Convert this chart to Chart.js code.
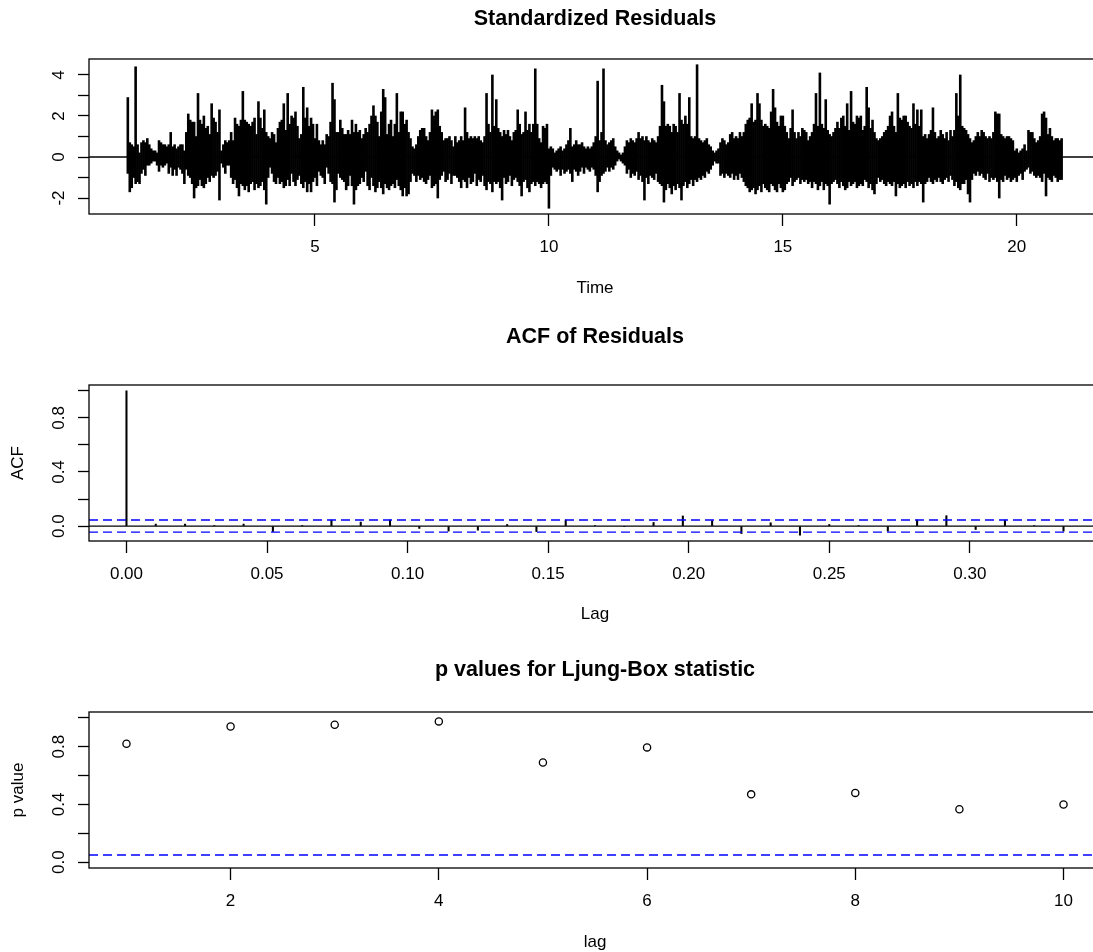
<!DOCTYPE html>
<html><head><meta charset="utf-8">
<script src="https://cdn.jsdelivr.net/npm/chart.js@4.4.1/dist/chart.umd.min.js"></script>
<style>
html,body{margin:0;padding:0;background:#fff;overflow:hidden;width:1093px;height:952px;position:relative;}
canvas{position:absolute;left:0;}
</style></head><body>
<canvas id="c1" width="1190" height="317" style="top:0px"></canvas>
<canvas id="c2" width="1190" height="317" style="top:317px"></canvas>
<canvas id="c3" width="1190" height="336" style="top:634px"></canvas>
<script>
// ---------- Panel 1: standardized residuals (envelope per 1/24 time unit) ----------
const resStart = 1;
const resFreq = 24;
const resHi = [
2.9,0.7,0.6,0.5,4.4,0.6,0.2,0.7,0.8,0.7,0.9,0.6,0.4,0.3,0.3,0.2,0.8,0.7,0.6,0.6,0.5,0.6,1.2,0.5,
0.6,0.4,0.5,0.6,0.6,0.3,1.2,2.1,1.8,1.7,1.7,1.0,3.1,1.8,1.6,2.0,1.4,1.5,1.1,2.6,1.9,1.7,1.2,2.3,
0.3,0.6,0.8,0.7,0.8,1.2,0.8,1.9,1.6,1.5,1.8,3.2,1.8,1.7,1.6,1.5,1.7,1.9,1.1,2.7,1.9,1.4,2.3,1.2,
1.0,0.9,1.2,1.1,0.7,1.4,1.7,1.8,2.6,1.3,3.1,1.6,2.0,1.9,2.2,1.5,0.9,1.1,3.4,1.9,2.4,1.5,1.9,1.6,
0.9,1.6,0.8,0.6,0.8,0.6,1.1,1.0,1.7,3.6,2.8,1.2,1.2,1.8,1.4,1.1,1.1,1.3,1.1,1.8,1.2,1.6,1.2,1.3,
0.9,1.1,1.4,1.2,1.6,2.0,2.5,2.0,1.7,1.0,2.2,3.3,2.9,1.1,1.6,1.8,1.0,1.6,3.1,1.2,2.2,2.2,1.6,1.8,
1.2,0.9,0.5,0.4,0.6,1.0,1.3,1.4,1.4,1.0,0.8,1.2,2.3,2.0,2.2,2.3,1.5,1.2,0.8,0.9,0.9,1.0,0.8,0.5,
1.0,0.7,0.8,1.0,0.8,2.4,1.2,0.9,1.0,0.9,1.0,0.9,1.0,0.8,0.7,1.0,3.1,1.6,1.2,4.0,1.5,2.8,1.4,1.2,
1.0,1.3,1.1,1.3,1.0,0.8,1.2,1.3,2.3,1.6,1.1,1.2,2.2,1.3,1.6,1.2,1.6,4.3,1.6,0.9,0.7,1.5,1.4,1.6,
0.4,0.5,0.4,0.2,0.3,0.4,0.5,0.3,0.4,0.6,0.8,1.4,0.5,0.6,0.8,0.6,0.6,0.7,0.5,0.4,0.5,0.4,0.5,0.7,
1.0,3.7,0.8,1.2,4.3,0.8,0.6,0.7,0.8,0.9,0.5,0.3,0.2,0.1,0.2,0.5,0.8,0.7,0.9,0.8,0.7,0.9,1.2,0.9,
1.0,0.8,1.0,0.8,0.7,0.9,0.8,0.7,1.0,1.5,3.5,2.7,1.5,1.6,1.5,1.2,1.6,1.5,1.2,3.1,1.8,1.6,2.0,1.6,
2.9,1.0,0.9,1.0,4.5,0.9,0.8,0.7,0.8,0.9,0.6,0.5,0.3,0.2,0.3,0.4,0.7,0.9,0.8,0.6,0.7,1.1,1.2,0.9,
1.0,0.9,1.2,1.0,1.2,1.6,1.8,1.9,2.6,1.7,1.8,3.1,2.6,1.8,1.5,1.6,1.5,1.4,2.2,3.3,2.4,1.7,1.5,2.0,
2.0,1.5,1.2,0.9,1.4,2.3,1.2,0.9,1.2,1.0,1.4,1.3,1.2,0.8,1.0,1.2,1.6,3.1,1.5,4.1,1.6,1.4,2.8,1.3,
1.1,1.0,1.2,1.4,1.7,1.4,1.9,2.0,1.5,2.6,1.3,3.2,1.7,1.6,2.0,1.9,2.0,1.3,1.5,3.4,2.4,1.4,1.8,1.2,
0.9,0.8,0.9,1.0,1.2,1.3,1.5,2.0,2.2,1.5,1.2,3.1,1.9,1.8,2.0,2.0,1.7,1.5,1.4,2.6,1.6,2.3,1.5,2.3,
1.0,1.1,0.9,1.1,1.3,2.4,1.2,0.9,1.0,1.3,1.1,0.9,1.2,0.8,1.3,1.0,1.3,3.1,2.0,4.0,1.5,1.4,1.3,1.1,
0.9,0.7,0.8,1.0,1.2,1.0,1.3,1.2,1.0,0.9,1.0,0.9,1.2,2.2,2.1,2.1,1.1,1.0,0.9,1.0,1.0,0.9,0.8,0.3,
0.4,0.2,0.3,0.4,0.6,0.3,1.3,1.2,1.2,0.9,0.7,0.8,1.0,2.1,2.2,1.9,1.1,1.4,1.0,0.8,0.9,0.9,0.8,0.9
];
const resLo = [
-0.8,-1.7,-1.5,-1.0,-1.3,-1.2,-1.3,-0.8,-0.6,-0.9,-0.4,-0.4,-0.3,-0.2,-0.2,-0.4,-0.7,-0.4,-0.5,-0.4,-0.3,-0.8,-0.5,-0.9,
-0.6,-0.9,-0.5,-0.6,-0.8,-1.3,-0.6,-0.9,-1.0,-1.3,-2.0,-1.5,-1.4,-1.1,-1.4,-1.5,-1.3,-1.0,-1.2,-0.9,-1.0,-0.9,-0.7,-2.1,
-0.3,-0.5,-0.8,-0.4,-0.4,-1.0,-1.3,-1.1,-1.5,-1.9,-1.3,-1.4,-1.6,-1.4,-1.7,-1.3,-1.2,-1.6,-1.3,-1.5,-1.4,-1.2,-1.6,-2.3,
-1.0,-0.5,-0.8,-1.2,-1.3,-1.0,-1.3,-1.2,-1.5,-1.4,-1.1,-1.4,-0.8,-1.2,-1.4,-1.1,-0.9,-1.3,-1.5,-1.2,-1.7,-1.3,-1.7,-1.2,
-1.0,-1.4,-0.7,-0.9,-1.0,-1.3,-0.5,-0.8,-1.2,-1.3,-2.2,-1.6,-0.8,-1.0,-1.1,-1.2,-1.6,-1.4,-0.9,-1.4,-2.3,-1.6,-1.4,-1.3,
-1.0,-1.2,-0.7,-1.4,-1.6,-1.0,-1.4,-1.7,-1.5,-1.2,-1.5,-1.8,-1.3,-1.5,-1.6,-1.4,-1.3,-1.5,-1.1,-1.4,-1.6,-1.9,-1.5,-1.9,
-1.8,-1.2,-0.8,-0.9,-1.2,-0.9,-1.1,-1.0,-1.2,-1.3,-1.1,-0.9,-1.5,-1.4,-1.3,-2.0,-1.1,-0.9,-0.7,-1.2,-1.1,-0.8,-1.3,-0.9,
-0.9,-1.0,-1.2,-1.5,-1.1,-1.2,-1.5,-1.0,-1.3,-1.2,-0.8,-1.4,-1.1,-1.2,-0.9,-1.4,-1.6,-1.2,-1.3,-1.7,-1.2,-1.3,-1.2,-1.5,
-2.1,-1.0,-1.3,-1.2,-0.9,-1.4,-1.1,-1.0,-1.2,-1.4,-1.9,-1.2,-1.1,-1.5,-1.7,-1.3,-1.2,-1.4,-1.2,-1.3,-1.5,-1.3,-1.2,-1.3,
-2.5,-0.9,-0.5,-0.6,-0.7,-0.6,-0.9,-0.6,-0.8,-0.7,-0.6,-0.8,-1.2,-0.6,-0.7,-0.9,-0.7,-0.5,-0.8,-0.5,-0.6,-0.7,-0.5,-0.6,
-0.9,-1.7,-1.2,-0.9,-0.8,-0.7,-0.5,-0.7,-0.5,-0.6,-0.4,-0.2,-0.1,-0.2,-0.3,-0.4,-0.8,-0.6,-1.0,-0.8,-0.9,-0.7,-1.1,-0.9,
-1.2,-2.1,-1.0,-1.3,-0.9,-1.0,-1.1,-0.8,-1.2,-1.3,-1.4,-2.2,-1.6,-1.3,-1.5,-1.8,-1.4,-1.6,-1.3,-1.5,-2.1,-1.4,-1.2,-1.5,
-1.3,-1.1,-1.4,-1.1,-1.2,-1.0,-1.1,-0.9,-1.0,-0.7,-0.8,-0.6,-0.4,-0.2,-0.3,-0.3,-0.9,-0.8,-1.0,-0.8,-0.9,-1.0,-0.8,-1.1,
-0.9,-1.1,-0.8,-1.0,-1.2,-1.4,-1.5,-1.7,-1.6,-1.5,-1.8,-1.6,-1.4,-1.7,-1.3,-1.5,-1.6,-1.7,-1.3,-1.4,-1.6,-1.7,-1.3,-1.5,
-1.7,-1.6,-1.3,-1.2,-1.0,-1.4,-1.2,-1.1,-1.0,-1.3,-1.1,-1.2,-1.1,-1.3,-1.2,-1.5,-1.2,-1.3,-1.6,-1.4,-1.2,-1.6,-1.3,-1.4,
-2.3,-1.3,-1.2,-1.1,-1.3,-1.5,-1.2,-1.4,-1.6,-1.5,-1.2,-1.4,-1.3,-1.2,-1.5,-1.4,-1.3,-1.4,-1.1,-1.2,-1.5,-1.3,-1.6,-1.8,
-1.3,-1.0,-1.2,-1.1,-1.3,-1.4,-1.2,-1.3,-1.4,-1.2,-1.9,-1.3,-1.5,-1.4,-1.3,-1.5,-1.2,-1.4,-1.3,-1.5,-1.2,-1.4,-1.2,-1.3,
-2.2,-1.3,-1.2,-1.0,-1.2,-1.3,-1.1,-1.2,-1.0,-1.2,-1.3,-1.1,-1.0,-1.2,-0.9,-1.1,-1.4,-1.2,-1.5,-1.6,-1.3,-1.3,-1.1,-1.8,
-2.2,-1.1,-0.8,-0.9,-0.7,-0.9,-0.8,-1.0,-1.1,-0.8,-1.2,-1.0,-1.1,-1.0,-1.2,-2.0,-1.1,-1.2,-0.9,-1.1,-1.0,-1.2,-1.1,-1.0,
-1.2,-0.9,-0.8,-1.1,-0.7,-0.6,-0.5,-0.8,-0.7,-0.9,-1.0,-0.9,-1.0,-1.2,-0.8,-1.9,-1.0,-1.1,-1.2,-0.9,-1.0,-1.2,-1.1,-1.1
];
const resXTicks = [5, 10, 15, 20];
const resXLabels = ['5', '10', '15', '20'];
const resYTicks = [-2, -1, 0, 1, 2, 3, 4];
const resYLabels = ['-2', '', '0', '', '2', '', '4'];

// ---------- Panel 2: ACF of residuals ----------
const acfFreq = 96;
const acfVal = [1.0, 0.015, 0.015, 0.003, 0.015, -0.04, 0.002, 0.045, 0.03, 0.045, -0.017, -0.037, -0.03,
  0.012, -0.04, 0.045, 0.003, -0.003, 0.027, 0.075, 0.04, -0.055, 0.025, -0.067, 0.012, 0.003, -0.037,
  0.045, 0.077, -0.025, 0.045, 0.003, -0.037];
const acfCI = 0.0447;
const acfXTicks = [0, 0.05, 0.10, 0.15, 0.20, 0.25, 0.30];
const acfXLabels = ['0.00', '0.05', '0.10', '0.15', '0.20', '0.25', '0.30'];
const acfYTicks = [0, 0.2, 0.4, 0.6, 0.8, 1.0];
const acfYLabels = ['0.0', '', '0.4', '', '0.8', ''];

// ---------- Panel 3: Ljung-Box p values ----------
const lbLag = [1, 2, 3, 4, 5, 6, 7, 8, 9, 10];
const lbP = [0.82, 0.94, 0.952, 0.975, 0.69, 0.795, 0.47, 0.48, 0.367, 0.40];
const lbLevel = 0.05;
const lbXTicks = [2, 4, 6, 8, 10];
const lbXLabels = ['2', '4', '6', '8', '10'];
const lbYTicks = [0, 0.2, 0.4, 0.6, 0.8, 1.0];
const lbYLabels = ['0.0', '', '0.4', '', '0.8', ''];

// ---------- helpers ----------
const FONT = "'Liberation Sans', Arial, sans-serif";
const INK = '#000';
const BLUE = '#0000ff';

const boxPlugin = {
  id: 'rbox',
  afterDatasetsDraw(chart) {
    const a = chart.chartArea, c = chart.ctx;
    c.save();
    c.strokeStyle = INK; c.lineWidth = 1.3;
    c.strokeRect(a.left, a.top, a.right - a.left, a.bottom - a.top);
    c.restore();
  }
};

function xScale(min, max, ticks, labels, title, height, titlePadBottom) {
  return {
    type: 'linear', position: 'bottom', min: min, max: max, offset: false,
    afterBuildTicks: s => { s.ticks = ticks.map(v => ({ value: v })); },
    afterFit: s => { s.height = height; },
    ticks: { autoSkip: false, minRotation: 0, maxRotation: 0, padding: 11.4, color: INK,
      font: { family: FONT, size: 17 }, callback: (v, i) => labels[i] },
    grid: { display: true, offset: false, drawOnChartArea: false, drawTicks: true, tickLength: 12, tickColor: INK, tickWidth: 1.3 },
    border: { display: false },
    title: { display: true, text: title, color: INK, font: { family: FONT, size: 17 },
      padding: { top: 0, bottom: titlePadBottom } }
  };
}
function yScale(min, max, ticks, labels, title, pad) {
  return {
    type: 'linear', position: 'left', min: min, max: max,
    afterBuildTicks: s => { s.ticks = ticks.map(v => ({ value: v })); },
    afterFit: s => { s.width = 89; },
    ticks: { autoSkip: false, minRotation: 90, maxRotation: 90, crossAlign: 'center', padding: pad, color: INK,
      font: { family: FONT, size: 17 }, callback: (v, i) => labels[i] },
    grid: { display: true, drawOnChartArea: false, drawTicks: true, tickLength: 11, tickColor: INK, tickWidth: 1.3 },
    border: { display: false },
    title: { display: !!title, text: title || '', color: INK, font: { family: FONT, size: 17 },
      padding: { top: 8.3, bottom: 0 } }
  };
}
function titleOpt(text, top, bottom) {
  return { display: true, fullSize: false, text: text, color: INK, font: { family: FONT, size: 21.5, weight: 'bold' },
    padding: { top: top, bottom: bottom } };
}
function hline(y, x0, x1, color, dash, w) {
  return { type: 'line', data: [{ x: x0, y: y }, { x: x1, y: y }], borderColor: color, borderWidth: w,
    borderDash: dash, pointRadius: 0, fill: false, order: 0 };
}
const common = { responsive: false, animation: false, events: [],
  layout: { padding: { left: 0, right: 89, top: 0, bottom: 0 } } };

// ---------- Panel 1 ----------
const r1min = 0.17, r1max = 21.8;
new Chart(document.getElementById('c1'), {
  type: 'bar',
  data: { datasets: [
    { type: 'bar', data: resHi.map((h, i) => ({ x: resStart + i / resFreq, y: [resLo[i], h] })),
      backgroundColor: INK, borderWidth: 0, barPercentage: 1, categoryPercentage: 1, order: 1 },
    hline(0, r1min, r1max, INK, [], 1.3)
  ]},
  options: Object.assign({}, common, {
    plugins: { legend: { display: false }, tooltip: { enabled: false }, title: titleOpt('Standardized Residuals', 6, 27.2) },
    scales: { x: xScale(r1min, r1max, resXTicks, resXLabels, 'Time', 103, 18.8),
              y: yScale(-2.78, 4.78, resYTicks, resYLabels, '', 11.45) }
  }),
  plugins: [boxPlugin]
});

// ---------- Panel 2 ----------
const a2min = -0.01333, a2max = 0.34667;
new Chart(document.getElementById('c2'), {
  type: 'bar',
  data: { datasets: [
    { type: 'bar', data: acfVal.map((v, k) => ({ x: k / acfFreq, y: [0, v] })),
      backgroundColor: INK, borderWidth: 0, barThickness: 1.4, order: 1 },
    hline(0, a2min, a2max, INK, [], 1.3),
    hline(acfCI, a2min, a2max, BLUE, [9, 5], 1.4),
    hline(-acfCI, a2min, a2max, BLUE, [9, 5], 1.4)
  ]},
  options: Object.assign({}, common, {
    plugins: { legend: { display: false }, tooltip: { enabled: false }, title: titleOpt('ACF of Residuals', 7.1, 35.1) },
    scales: { x: xScale(a2min, a2max, acfXTicks, acfXLabels, 'Lag', 93, 9.2),
              y: yScale(-0.11, 1.043, acfYTicks, acfYLabels, 'ACF', 7.2) }
  }),
  plugins: [boxPlugin]
});

// ---------- Panel 3 ----------
const l3min = 0.64, l3max = 10.36;
new Chart(document.getElementById('c3'), {
  type: 'scatter',
  data: { datasets: [
    { type: 'scatter', data: lbLag.map((l, i) => ({ x: l, y: lbP[i] })), pointStyle: 'circle',
      pointRadius: 3.6, borderColor: INK, backgroundColor: 'rgba(0,0,0,0)', pointBorderWidth: 1.3, borderWidth: 1.3, order: 1 },
    hline(lbLevel, l3min, l3max, BLUE, [9, 5], 1.4)
  ]},
  options: Object.assign({}, common, {
    plugins: { legend: { display: false }, tooltip: { enabled: false }, title: titleOpt('p values for Ljung-Box statistic', 23.1, 29.1) },
    scales: { x: xScale(l3min, l3max, lbXTicks, lbXLabels, 'lag', 102, 17.8),
              y: yScale(-0.04, 1.04, lbYTicks, lbYLabels, 'p value', 7.2) }
  }),
  plugins: [boxPlugin]
});
</script>
</body></html>
